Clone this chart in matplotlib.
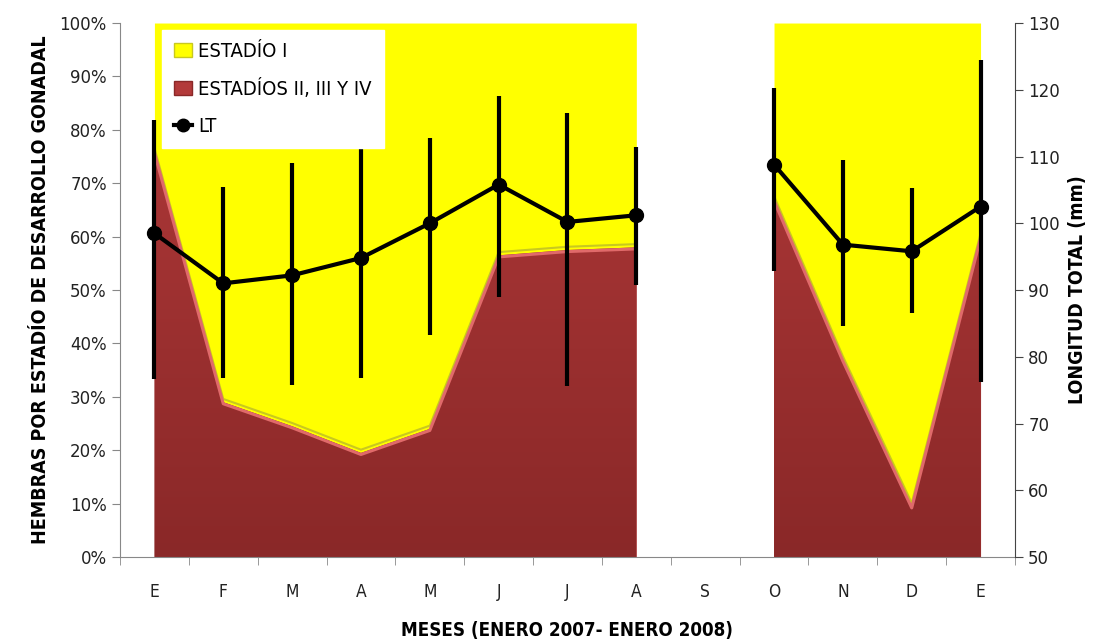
import numpy as np
import matplotlib.pyplot as plt
from matplotlib.lines import Line2D
from matplotlib.patches import Patch
from matplotlib.colors import LinearSegmentedColormap

# Data
meses = ['E', 'F', 'M', 'A', 'M', 'J', 'J', 'A', 'S', 'O', 'N', 'D', 'E']
estadios_2_4 = [76, 29, 24.5, 19.5, 24, 56.5, 57.5, 58, np.nan, 67, 37, 9.5, 60]
lt_media = [98.5, 91, 92.2, 94.8, 100, 105.8, 100.2, 101.2, np.nan, 108.8, 96.8, 95.8, 102.5]
lt_sup = [115.5, 105.5, 109, 112.7, 112.8, 119, 116.5, 111.5, np.nan, 120.3, 109.5, 105.3, 124.5]
lt_inf = [76.7, 76.8, 75.8, 76.8, 83.2, 89, 75.6, 90.8, np.nan, 92.8, 84.6, 86.6, 76.2]

red = np.array(estadios_2_4, dtype=float)
lt = np.array(lt_media, dtype=float)
err_sup = np.array(lt_sup) - lt
err_inf = lt - np.array(lt_inf)
x = np.arange(len(meses))

lab_font = dict(family='DejaVu Sans', stretch='condensed')

fig = plt.figure(figsize=(11.1, 6.43), dpi=100)
ax1 = fig.add_axes([0.1081, 0.1337, 0.8063, 0.8305])

# split into continuous segments (September is missing)
valid = ~np.isnan(red)
segs = []
cur = []
for i in x:
    if valid[i]:
        cur.append(i)
    elif cur:
        segs.append(cur)
        cur = []
if cur:
    segs.append(cur)

grad = np.linspace(0, 1, 256).reshape(-1, 1)
red_cmap = LinearSegmentedColormap.from_list('r', ['#8a2828', '#b33a3a'])

for s in segs:
    s = np.array(s)
    ax1.fill_between(x[s], red[s], 100, color='#ffff00', lw=0, zorder=1)
    poly = ax1.fill_between(x[s], 0, red[s], color='#a53232', lw=0, zorder=2)
    im = ax1.imshow(grad, extent=[x[s][0], x[s][-1], 0, 100], aspect='auto',
                    cmap=red_cmap, origin='lower', zorder=2.1)
    im.set_clip_path(poly.get_paths()[0], transform=ax1.transData)
    ax1.plot(x[s], red[s] + 0.6, color='#c8c820', lw=1.5, zorder=2.2)
    ax1.plot(x[s], red[s] - 0.3, color='#e06a6a', lw=2.2, zorder=2.3)

ax1.set_xlim(-0.5, 12.5)
ax1.set_ylim(0, 100)
ax1.set_yticks(np.arange(0, 101, 10))
ax1.set_yticklabels([f'{v}%' for v in range(0, 101, 10)], fontsize=12, color='#222222')
ax1.set_xticks(x)
ax1.set_xticklabels(meses, fontsize=12.5, color='#222222', **lab_font)
ax1.set_xticks(np.arange(-0.5, 13, 1), minor=True)
ax1.tick_params(axis='x', which='major', length=0, pad=19)
ax1.tick_params(axis='x', which='minor', length=6, color='#888888', direction='out')
ax1.tick_params(axis='y', length=6, color='#888888', direction='out')
for sp in ['top', 'right']:
    ax1.spines[sp].set_visible(False)
ax1.spines['left'].set_color('#888888')
ax1.spines['bottom'].set_color('#888888')
ax1.set_ylabel('HEMBRAS POR ESTADÍO DE DESARROLLO GONADAL', fontsize=14,
               fontweight='bold', labelpad=7, **lab_font)
ax1.set_xlabel('MESES (ENERO 2007- ENERO 2008)', fontsize=13.5, fontweight='bold',
               labelpad=14, **lab_font)

ax2 = ax1.twinx()
ax2.set_ylim(50, 130)
ax2.errorbar(x, lt, yerr=[err_inf, err_sup], fmt='none', ecolor='black',
             elinewidth=3, capsize=0, zorder=5)
ax2.plot(x, lt, color='black', lw=3, marker='o', markersize=10, zorder=6)
ax2.set_yticks(np.arange(50, 131, 10))
ax2.tick_params(axis='y', labelsize=12, length=6, color='#444444', labelcolor='#222222')
for sp in ['top', 'left', 'bottom']:
    ax2.spines[sp].set_visible(False)
ax2.spines['right'].set_color('#444444')
ax2.set_ylabel('LONGITUD TOTAL (mm)', fontsize=14, fontweight='bold',
               labelpad=6, **lab_font)

handles = [Patch(facecolor='#ffff00', edgecolor='#c8c820'),
           Patch(facecolor='#b33a3a', edgecolor='#8a2828'),
           Line2D([0], [0], color='black', lw=3, marker='o', markersize=9)]
labels = ['ESTADÍO I', 'ESTADÍOS II, III Y IV', 'LT']
leg = ax2.legend(handles, labels, loc='upper left', bbox_to_anchor=(0.047, 0.987),
                 borderaxespad=0, frameon=True, fancybox=False, edgecolor='white',
                 framealpha=1, prop={'size': 14.5, **lab_font}, handlelength=0.9,
                 handletextpad=0.3, labelspacing=0.9, borderpad=0.6)
leg.set_zorder(10)

fig.savefig('out.png', dpi=100)
